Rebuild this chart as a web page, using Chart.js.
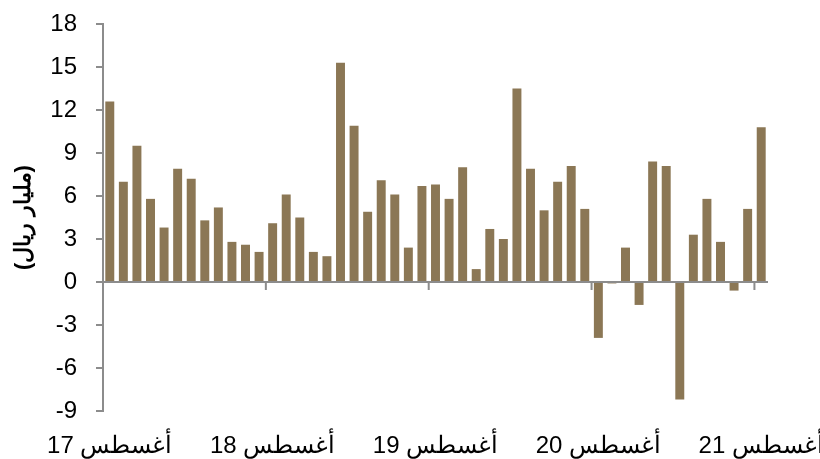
<!DOCTYPE html>
<html>
<head>
<meta charset="utf-8">
<script src="https://cdn.jsdelivr.net/npm/chart.js@4.4.1/dist/chart.umd.min.js"></script>
<style>
  html, body { margin: 0; padding: 0; background: #fff; }
  #wrap { width: 820px; height: 459px; position: relative; }
</style>
</head>
<body>
<div id="wrap"><canvas id="chartMain"></canvas></div>
<script>
// monthly values, Aug 2017 .. Aug 2021 (billion riyal)
var values = [
    12.6, 7.0, 9.5, 5.8, 3.8, 7.9, 7.2, 4.3, 5.2, 2.8, 2.6, 2.1,
    4.1, 6.1, 4.5, 2.1, 1.8, 15.3, 10.9, 4.9, 7.1, 6.1, 2.4, 6.7,
    6.8, 5.8, 8.0, 0.9, 3.7, 3.0, 13.5, 7.9, 5.0, 7.0, 8.1, 5.1,
    -3.9, -0.1, 2.4, -1.6, 8.4, 8.1, -8.2, 3.3, 5.8, 2.8, -0.6, 5.1,
    10.8
];
var yearLabels = ['17', '18', '19', '20', '21'];
var monthName = 'أغسطس';
var yTicks = [18, 15, 12, 9, 6, 3, 0, -3, -6, -9];
var yTitle = '(مليار ريال)';

var categories = [];
for (var i = 0; i < values.length; i++) {
    categories.push(i % 12 === 0 ? yearLabels[i / 12] + ' ' + monthName : '');
}

var barColor = '#8b7755';
var axisColor = '#8c8c8c';
var font = 'Arial, "Liberation Sans", sans-serif';

// zero line with year tick marks, like the original axis
var zeroAxis = {
    id: 'zeroAxis',
    afterDatasetsDraw(chart) {
        var ctx = chart.ctx, x = chart.scales.x, y = chart.scales.y;
        var y0 = y.getPixelForValue(0);
        ctx.save();
        ctx.strokeStyle = axisColor;
        ctx.lineWidth = 2;
        ctx.beginPath();
        ctx.moveTo(chart.chartArea.left, y0);
        ctx.lineTo(chart.chartArea.right, y0);
        for (var i = 12; i < values.length; i += 12) {
            var xp = (x.getPixelForValue(i - 1) + x.getPixelForValue(i)) / 2;
            ctx.moveTo(xp, y0);
            ctx.lineTo(xp, y0 + 8);
        }
        ctx.stroke();
        ctx.restore();
    }
};

new Chart(document.getElementById('chartMain').getContext('2d'), {
    type: 'bar',
    data: {
        labels: categories,
        datasets: [{
            data: values,
            backgroundColor: barColor,
            barPercentage: 0.66,
            categoryPercentage: 1.0
        }]
    },
    options: {
        responsive: true,
        maintainAspectRatio: false,
        animation: false,
        layout: { padding: { top: 24, right: 52, bottom: 0, left: 0 } },
        plugins: {
            legend: { display: false },
            tooltip: { enabled: false }
        },
        scales: {
            x: {
                grid: { display: false, drawTicks: false },
                border: { display: false },
                ticks: {
                    autoSkip: false,
                    maxRotation: 0,
                    minRotation: 0,
                    padding: 21,
                    color: '#000',
                    font: { family: font, size: 24 }
                },
                afterFit(scale) {
                    scale.height = 48;
                    scale.paddingLeft = 0;
                    scale.paddingRight = 0;
                }
            },
            y: {
                min: -9,
                max: 18,
                afterBuildTicks(scale) {
                    scale.ticks = yTicks.map(function (v) { return { value: v }; });
                },
                grid: {
                    drawOnChartArea: false,
                    drawTicks: true,
                    tickLength: 7,
                    color: axisColor,
                    lineWidth: 2
                },
                border: { color: axisColor, width: 2 },
                ticks: {
                    padding: 19,
                    color: '#000',
                    font: { family: font, size: 24 }
                },
                title: {
                    display: true,
                    text: yTitle,
                    color: '#000',
                    font: { family: font, size: 22, weight: 'bold' },
                    padding: { top: 11, bottom: 0 }
                },
                afterFit(scale) {
                    scale.width = 103;
                    scale.paddingTop = 0;
                    scale.paddingBottom = 0;
                }
            }
        }
    },
    plugins: [zeroAxis]
});
</script>
</body>
</html>
